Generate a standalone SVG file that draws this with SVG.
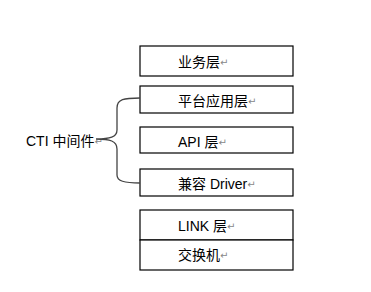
<svg xmlns="http://www.w3.org/2000/svg" width="371" height="292" viewBox="0 0 371 292">
<style>
.box{fill:#fff;stroke:#000;stroke-width:1.2}
.t{font-family:"Liberation Sans","Noto Sans CJK SC",sans-serif;font-size:14px;fill:#000}
.r{font-family:"DejaVu Sans",sans-serif;font-size:10px;fill:#888}
.br{fill:none;stroke:#444;stroke-width:1.3}
</style>
<rect width="371" height="292" fill="#fff"/>
<g id="n1"><rect class="box" x="140" y="46" width="153" height="30"/><text class="t" x="178" y="67">业务层<tspan class="r" dy="-1">↵</tspan></text></g>
<g id="n2"><rect class="box" x="140" y="86" width="153" height="27"/><text class="t" x="178" y="106">平台应用层<tspan class="r" dy="-1">↵</tspan></text></g>
<g id="n3"><rect class="box" x="140" y="127" width="153" height="26"/><text class="t" x="178" y="147">API 层<tspan class="r" dy="-1">↵</tspan></text></g>
<g id="n4"><rect class="box" x="140" y="169" width="153" height="27"/><text class="t" x="178" y="189">兼容 Driver<tspan class="r" dy="-1">↵</tspan></text></g>
<g id="n5"><rect class="box" x="140" y="210" width="153" height="30"/><text class="t" x="178" y="231">LINK 层<tspan class="r" dy="-1">↵</tspan></text></g>
<g id="n6"><rect class="box" x="140" y="240" width="153" height="30"/><text class="t" x="178" y="260">交换机<tspan class="r" dy="-1">↵</tspan></text></g>
<g id="n0"><text class="t" x="26" y="146">CTI 中间件<tspan class="r" dy="-1">↵</tspan></text></g>
<g id="connectors">
<path class="br" d="M140,98 C124,98 117,99 117,108 L117,130 C117,137 110,139 96,139 C110,139 117,141 117,149 L117,175 C117,181 124,183 140,183"/>
</g>
</svg>
